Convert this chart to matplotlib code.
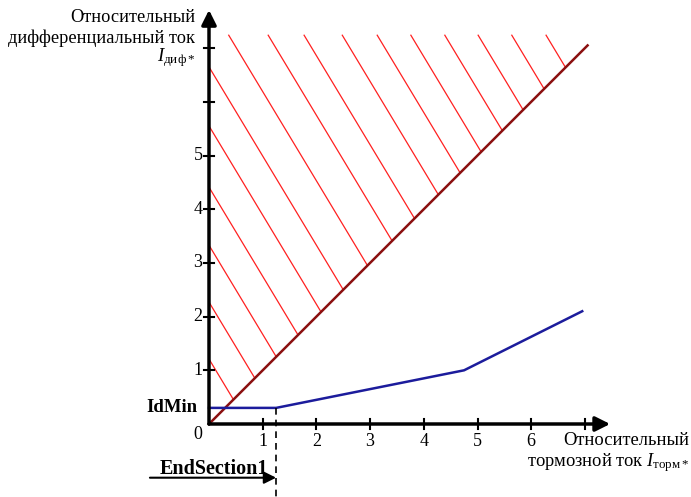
import matplotlib.pyplot as plt
import numpy as np

plt.rcParams['font.family'] = ['Liberation Serif', 'DejaVu Serif']
plt.rcParams['mathtext.fontset'] = 'custom'
plt.rcParams['mathtext.rm'] = 'Liberation Serif'
plt.rcParams['mathtext.it'] = 'Liberation Serif:italic'

# характеристика срабатывания (Iторм*, Iдиф*)
brake_x = [0.0, 1.25, 4.75, 6.95]
diff_y = [0.3, 0.3, 1.0, 2.1]
idmin = 0.3
end_section1 = 1.25

# граница зоны срабатывания
border_x = [0.0, 7.05]
border_y = [0.0, 7.05]

# штриховка: y + k*x = c
hatch_k = 1.66
hatch_c = [1.21, 2.27, 3.33, 4.41, 5.55, 6.65, 7.85, 9.07, 10.18,
           11.36, 12.44, 13.48, 14.53, 15.56, 16.60, 17.66]
hatch_top = 7.24

xticks = [1, 2, 3, 4, 5, 6, 7]
xlabels = ['1', '2', '3', '4', '5', '6', '']
yticks = [1, 2, 3, 4, 5, 6, 7]
ylabels = ['1', '2', '3', '4', '5', '', '']

fig = plt.figure(figsize=(6.91, 4.97), dpi=100)
ax = fig.add_axes([0, 0, 1, 1])
s = 53.7
ax.set_xlim(-209 / s, (691 - 209) / s)
ax.set_ylim(-(497 - 424) / s, 424 / s)
ax.axis('off')

# штриховка
for c in hatch_c:
    # пересечение с диагональю y = x
    xd = c / (1 + hatch_k)
    # верхняя точка: слева (x=0) или сверху (y=hatch_top)
    if c <= hatch_top:
        x0, y0 = 0.0, c
    else:
        x0, y0 = (c - hatch_top) / hatch_k, hatch_top
    ax.plot([x0, xd], [y0, xd], color='#ff2020', lw=0.9)

ax.plot(border_x, border_y, color='#8b1010', lw=1.8)
ax.plot(brake_x, diff_y, color='#1c1c9c', lw=1.8)

# оси
ax.annotate('', xy=(7.47, 0), xytext=(0, 0),
            arrowprops=dict(arrowstyle='-|>', lw=2.5, color='black',
                            mutation_scale=22, shrinkA=0, shrinkB=0))
ax.annotate('', xy=(0, 7.71), xytext=(0, 0),
            arrowprops=dict(arrowstyle='-|>', lw=2.5, color='black',
                            mutation_scale=22, shrinkA=0, shrinkB=0))
t = 5 / s
for xv, lab in zip(xticks, xlabels):
    ax.plot([xv, xv], [-t, t], color='black', lw=1.5)
    ax.text(xv, -0.17, lab, ha='center', va='top', fontsize=13)
for yv, lab in zip(yticks, ylabels):
    ax.plot([-t, t], [yv, yv], color='black', lw=1.5)
    ax.text(-0.12, yv, lab, ha='right', va='center', fontsize=13)
ax.text(-0.2, -0.19, '0', ha='center', va='center', fontsize=13)

# EndSection1
ax.plot([end_section1, end_section1], [idmin, -1.4], color='black', lw=1.2,
        linestyle=(0, (4, 3)))
ax.annotate('', xy=(end_section1, -1.0), xytext=(-1.1, -1.0),
            arrowprops=dict(arrowstyle='-|>', lw=1.5, color='black',
                            mutation_scale=18, shrinkA=0, shrinkB=0))
ax.text(-0.92, -0.93, 'EndSection1', ha='left', va='baseline', fontsize=14.5,
        fontweight='bold')
ax.text(-0.22, idmin, 'IdMin', ha='right', va='center', fontsize=13.5,
        fontweight='bold')

# подписи осей
ax.text(-0.26, 7.57, 'Относительный', ha='right', va='center', fontsize=13.2)
ax.text(-0.26, 7.19, 'дифференциальный ток', ha='right', va='center',
        fontsize=13.2)
ax.text(-0.26, 6.83, r'$\mathit{I}_{\mathrm{диф*}}$', ha='right', va='center',
        fontsize=13.5)
ax.text(8.95, -0.3, 'Относительный', ha='right', va='center', fontsize=13.3)
ax.text(8.95, -0.71, 'тормозной ток ' + r'$\mathit{I}_{\mathrm{торм*}}$',
        ha='right', va='center', fontsize=13.3)

fig.savefig('out.png', dpi=100)
